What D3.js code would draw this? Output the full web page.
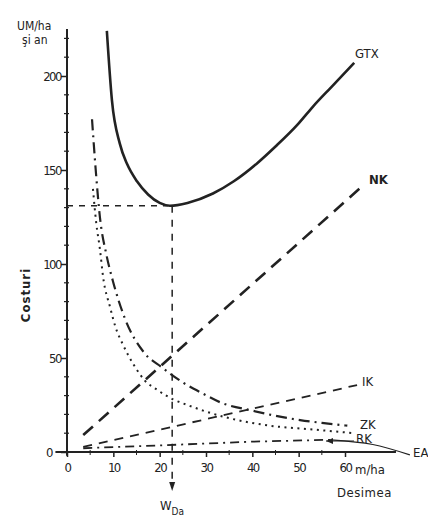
<!DOCTYPE html>
<html>
<head>
<meta charset="utf-8">
<title>Costuri vs Desimea</title>
<script src="https://d3js.org/d3.v7.min.js"></script>
<style>
  body { margin: 0; background: #fff; }
  svg { display: block; }
  text { font-family: "DejaVu Sans Condensed", "Liberation Sans Narrow", sans-serif; fill: #222; }
</style>
</head>
<body>
<svg width="428" height="517"></svg>
<script>
// tick values
var xTicks = [0, 10, 20, 30, 40, 50, 60];
var yTicks = [0, 50, 100, 150, 200];

// series: [desimea m/ha, cost UM/ha si an]
var gtx = [[8.6,224],[9.7,187],[11.4,164],[13,153],[15.1,144],[17.5,137],[20,132.5],[22.2,131],[26,132.5],[31.5,137.5],[36,144],[41,153.5],[45,162.5],[49.7,174],[53,183.5],[57,194],[62,207]];
var nk  = [[3.5,9],[64,142]];
var ik  = [[3.5,2.7],[62.6,35.6]];
var zk  = [[5.4,177],[6.2,150],[7.1,125],[8.5,105],[9.9,91],[12.5,71],[16.6,53],[20.5,45],[25,37],[29.4,31],[33,26.5],[40,22],[44.5,19.5],[50.3,17],[55,15.5],[60.5,14]];
var rk  = [[5.6,140],[6.3,122],[7.1,108],[7.8,93],[9.3,77],[10.4,67],[12.1,57],[14.5,46],[16.8,38],[19.5,33],[22.9,28],[26,25],[29.4,22],[35,18],[43.8,14],[53,12],[62,10]];
var ea  = [[3.5,2],[20,3.5],[40,5.5],[57,6.5]];
var eaTail = [[57,6.5],[66,4],[74,-1.5]];

// optimum
var optX = 22.7, optY = 131;

var svg = d3.select("svg");
var x = d3.scaleLinear().domain([0, 60]).range([67, 345]);
var y = d3.scaleLinear().domain([0, 200]).range([452, 76]);
var ink = "#222";

// axes
svg.append("line").attr("x1", x(0)).attr("x2", x(0)).attr("y1", y(225)).attr("y2", y(-2))
  .attr("stroke", ink).attr("stroke-width", 2);
svg.append("line").attr("x1", x(-2.5)).attr("x2", x(71)).attr("y1", y(0)).attr("y2", y(0))
  .attr("stroke", ink).attr("stroke-width", 2);

// y ticks
var yAxis = d3.axisLeft(y).tickValues(yTicks).tickSize(6).tickFormat(d3.format("d"));
var gy = svg.append("g").attr("transform", "translate(" + x(0) + ",0)").call(yAxis);
gy.select(".domain").remove();
gy.selectAll(".tick line").attr("stroke", ink).attr("stroke-width", 1.5);
gy.selectAll(".tick text").attr("font-size", 13).attr("letter-spacing", -1.5).attr("x", -6).attr("fill", ink);
gy.selectAll(".tick").filter(function(d) { return d === 0; }).select("text").attr("x", -15);
svg.append("g").selectAll("line").data(d3.range(10, 221, 10).filter(function(d) { return d % 50 !== 0; }))
  .join("line")
  .attr("x1", x(0) - 3).attr("x2", x(0) + 2)
  .attr("y1", function(d) { return y(d); }).attr("y2", function(d) { return y(d); })
  .attr("stroke", ink).attr("stroke-width", 1.2);

// x ticks
var xAxis = d3.axisBottom(x).tickValues(xTicks).tickSize(5).tickFormat(d3.format("d"));
var gx = svg.append("g").attr("transform", "translate(0," + y(0) + ")").call(xAxis);
gx.select(".domain").remove();
gx.selectAll(".tick line").attr("stroke", ink).attr("stroke-width", 1.5);
gx.selectAll(".tick text").attr("font-size", 13).attr("letter-spacing", -1.5).attr("dy", "0.9em").attr("fill", ink);
svg.append("g").selectAll("line").data([5, 15, 25, 35, 45, 55])
  .join("line")
  .attr("x1", function(d) { return x(d); }).attr("x2", function(d) { return x(d); })
  .attr("y1", y(0) - 2).attr("y2", y(0) + 3)
  .attr("stroke", ink).attr("stroke-width", 1);

// series
var line = d3.line().x(function(d) { return x(d[0]); }).y(function(d) { return y(d[1]); });
var smooth = d3.line().x(function(d) { return x(d[0]); }).y(function(d) { return y(d[1]); }).curve(d3.curveMonotoneX);

svg.append("path").datum(gtx).attr("d", smooth).attr("fill", "none").attr("stroke", ink).attr("stroke-width", 2.6);
svg.append("path").datum(nk).attr("d", line).attr("fill", "none").attr("stroke", ink).attr("stroke-width", 2.6)
  .attr("stroke-dasharray", "13,8");
svg.append("path").datum(ik).attr("d", line).attr("fill", "none").attr("stroke", ink).attr("stroke-width", 1.8)
  .attr("stroke-dasharray", "9,7");
svg.append("path").datum(zk).attr("d", smooth).attr("fill", "none").attr("stroke", ink).attr("stroke-width", 2.2)
  .attr("stroke-dasharray", "11,5,2,5");
svg.append("path").datum(rk).attr("d", smooth).attr("fill", "none").attr("stroke", ink).attr("stroke-width", 2)
  .attr("stroke-dasharray", "2,4.5");
svg.append("path").datum(ea).attr("d", line).attr("fill", "none").attr("stroke", ink).attr("stroke-width", 1.8)
  .attr("stroke-dasharray", "9,5,2,5");
svg.append("path").datum(eaTail).attr("d", smooth).attr("fill", "none").attr("stroke", ink).attr("stroke-width", 1.2);

// optimum guides
svg.append("line").attr("x1", x(0)).attr("x2", x(optX) - 4).attr("y1", y(optY)).attr("y2", y(optY))
  .attr("stroke", ink).attr("stroke-width", 1.5).attr("stroke-dasharray", "6,6");
svg.append("line").attr("x1", x(optX)).attr("x2", x(optX)).attr("y1", y(optY)).attr("y2", 488)
  .attr("stroke", ink).attr("stroke-width", 1.5).attr("stroke-dasharray", "7,7");
svg.append("path").attr("d", "M" + (x(optX) - 3) + ",482L" + x(optX) + ",491L" + (x(optX) + 3) + ",482Z").attr("fill", ink);

// RK pointer
svg.append("path").attr("d", "M354,441L326,441").attr("stroke", ink).attr("stroke-width", 1);
svg.append("path").attr("d", "M326,441L333,438L333,444Z").attr("fill", ink);

// series labels
var labels = [["GTX", 355, 58, "normal"], ["NK", 369, 184, "bold"], ["IK", 362, 386, "normal"],
              ["ZK", 360, 429, "normal"], ["RK", 356, 443, "normal"], ["EA", 413, 457, "normal"]];
svg.append("g").selectAll("text").data(labels).join("text")
  .attr("x", function(d) { return d[1]; }).attr("y", function(d) { return d[2]; })
  .attr("font-size", 13).attr("font-weight", function(d) { return d[3]; })
  .text(function(d) { return d[0]; });

// axis titles
svg.append("text").attr("x", 17).attr("y", 30).attr("font-size", 12).text("UM/ha");
svg.append("text").attr("x", 22).attr("y", 44).attr("font-size", 12).text("şi an");
svg.append("text").attr("transform", "translate(30,295) rotate(-90)").attr("text-anchor", "middle")
  .attr("font-size", 13).attr("font-weight", "bold").attr("letter-spacing", 1).text("Costuri");
svg.append("text").attr("x", 355).attr("y", 474).attr("font-size", 13).text("m/ha");
svg.append("text").attr("x", 337).attr("y", 497).attr("font-size", 13).attr("letter-spacing", 0.5).text("Desimea");
var w = svg.append("text").attr("x", 160).attr("y", 510).attr("font-size", 13);
w.append("tspan").text("W");
w.append("tspan").attr("dy", 5).attr("font-size", 10).text("Da");
</script>
</body>
</html>
